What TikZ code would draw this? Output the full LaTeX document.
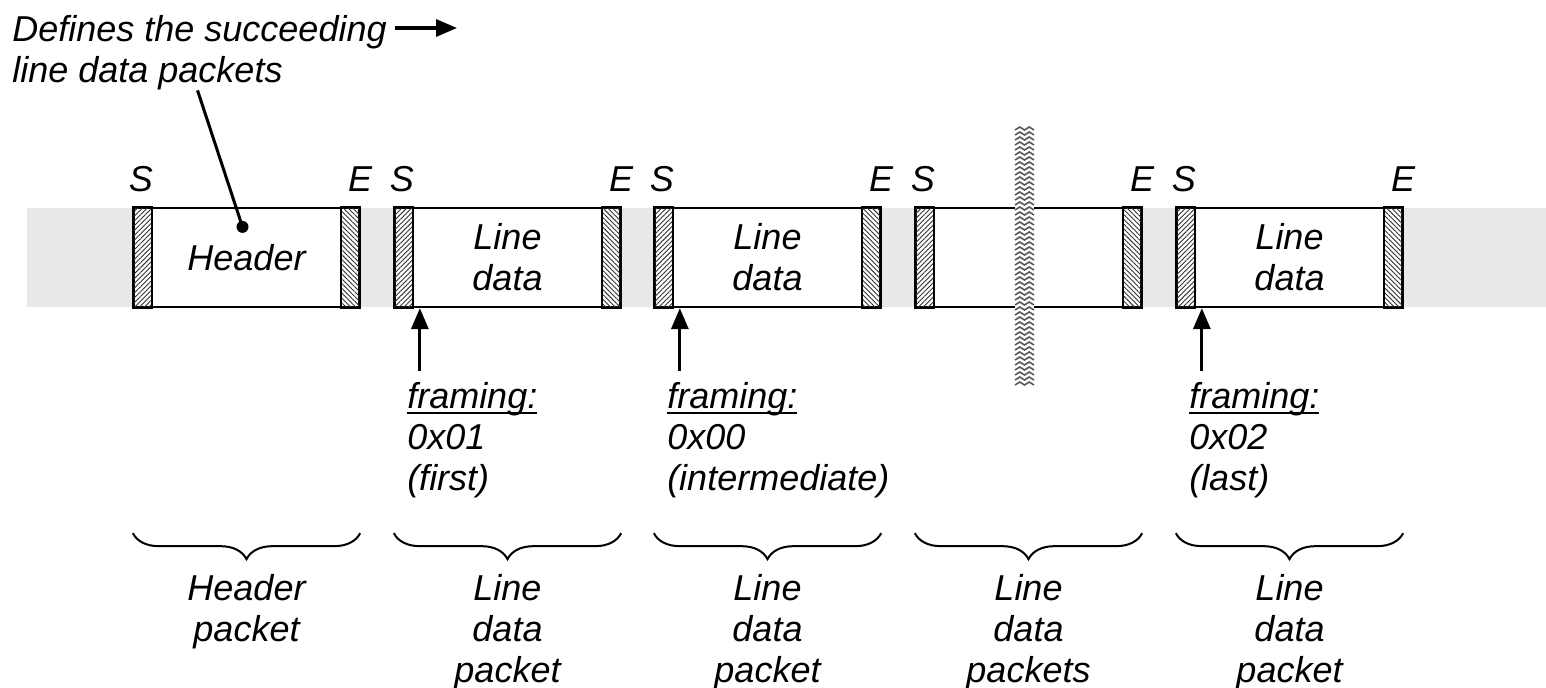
\documentclass[tikz,border=0pt]{standalone}
\usepackage{fontspec}
\setmainfont{Liberation Sans}
\colorlet{BandGray}{black!9}
\colorlet{HatchLine}{black!80}
\colorlet{CutLine}{black!65}
\usetikzlibrary{positioning, patterns.meta, decorations.pathreplacing, arrows.meta}

\newcommand{\ruled}[1]{\setbox0\hbox{#1}\rlap{\rule[-2.6pt]{\wd0}{1.1pt}}\box0}

\tikzset{
  every node/.style = {font=\fontsize{18}{20.5}\selectfont\itshape},
  packet/.style = {draw, line width=1.15pt, fill=white, minimum width=112.5pt,
    minimum height=49.5pt, inner sep=0pt, align=center},
  endmark/.style = {draw, line width=1.15pt,
    pattern={Lines[angle=#1, distance=1.7pt, line width=0.45pt]}, pattern color=HatchLine},
  tag/.style = {anchor=base, inner sep=0pt},
  note/.style = {align=left, inner sep=0pt},
  caption/.style = {align=center, inner sep=0pt},
  group/.style = {decorate, decoration={brace, mirror, amplitude=13pt}, line width=1pt},
  pointer/.style = {line width=1.6pt, -{Triangle[length=10.5pt, width=8.5pt]}}
}

\begin{document}
\begin{tikzpicture}[x=0.5pt, y=-0.5pt]

\useasboundingbox (0,0) rectangle (1546,687);
\fill[BandGray] (27,208) rectangle (1546,307);

\foreach \n/\x/\txt in {1/134/Header, 2/395/{Line\\data}, 3/655/{Line\\data}, 4/916/{}, 5/1177/{Line\\data}}{
  \node[packet] (p\n) at (\x+112.5, 257.5) {\txt};
  \draw[endmark=45] (p\n.south west) rectangle ([xshift=9.5pt]p\n.north west);
  \draw[endmark=-45] (p\n.south east) rectangle ([xshift=-9.5pt]p\n.north east);
  \node[tag] at ([xshift=4pt, yshift=7.5pt]p\n.north west) {S};
  \node[tag] at ([yshift=7.5pt]p\n.north east) {E};
  \draw[group] ([yshift=-112.5pt]p\n.south west) -- ([yshift=-112.5pt]p\n.south east);
}

\foreach \n/\txt in {1/{Header\\packet}, 2/{Line\\data\\packet}, 3/{Line\\data\\packet}, 4/{Line\\data\\packets}, 5/{Line\\data\\packet}}
  \node[caption, below=133pt of p\n.south] (b\n) {\txt};

\foreach \n/\val/\kind in {2/0x01/{(first)}, 3/0x00/{(intermediate)}, 5/0x02/{(last)}}{
  \node[note, below right=37pt and 6.5pt of p\n.south west] (f\n) {\ruled{framing:}\\\val\\\kind};
  \draw[pointer] ([xshift=6.5pt, yshift=5.5pt]f\n.north west) -- ([xshift=13pt]p\n.south west);
}

\fill[white] (1015,127) rectangle (1034,388);
\foreach \y in {127,132,...,383}
  \draw[CutLine, line width=0.8pt] (1015,\y+3) -- (1019.75,\y) -- (1024.5,\y+3) -- (1029.25,\y) -- (1034,\y+3);

\node[note, anchor=north west] (def) at (12,15) {Defines the succeeding\\line data packets};
\coordinate (next) at (457,28);
\draw[pointer] ([xshift=4pt, yshift=-6.5pt]def.north east) -- (next);

\coordinate (hdot) at ([xshift=-2pt, yshift=-10pt]p1.north);
\draw[line width=1.5pt] ([xshift=-1pt]def.south) -- (hdot);
\fill (hdot) circle (3pt);

\end{tikzpicture}
\end{document}
